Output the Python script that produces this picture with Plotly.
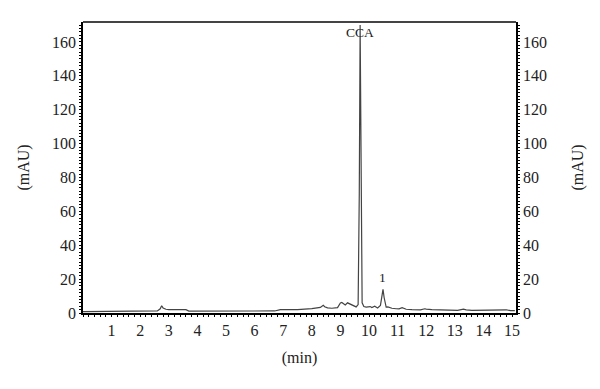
import plotly.graph_objects as go

time_min = [0.0, 0.5, 1.0, 2.0, 2.6, 2.7, 2.75, 2.8, 2.9, 3.0, 3.3, 3.5, 3.6, 3.7, 4.0, 5.0, 6.0,
            6.7, 6.9, 7.2, 7.5, 8.0, 8.3, 8.4, 8.45, 8.55, 8.7, 8.9, 9.0, 9.05, 9.12, 9.17, 9.25,
            9.3, 9.45, 9.55, 9.62, 9.66, 9.69, 9.72, 9.76, 9.82, 9.9, 10.04, 10.1, 10.2, 10.3,
            10.4, 10.45, 10.49, 10.53, 10.6, 10.66, 10.8, 10.95, 11.05, 11.16, 11.3, 11.5, 11.8,
            11.95, 12.0, 12.2, 12.5, 12.7, 12.8, 12.95, 13.1, 13.3, 13.4, 13.6, 14.0, 14.3, 14.5,
            14.7, 14.8, 14.95, 15.1]
signal_mau = [0.8, 0.8, 1.0, 1.1, 1.2, 2.5, 4.3, 3.0, 2.2, 2.0, 2.1, 1.9, 2.0, 1.1, 1.1, 1.1, 1.1,
              1.2, 2.0, 1.9, 2.0, 2.6, 3.3, 4.6, 3.7, 3.0, 2.8, 3.2, 5.9, 6.2, 5.0, 4.7, 6.0,
              5.6, 4.2, 3.6, 5.0, 70.0, 170.0, 60.0, 6.0, 3.8, 3.5, 3.8, 3.2, 4.0, 3.0,
              4.5, 9.0, 14.0, 9.0, 3.5, 3.6, 2.8, 2.5, 2.4, 3.1, 2.2, 2.0, 1.9,
              2.5, 2.3, 2.0, 1.9, 1.6, 1.9, 1.7, 1.6, 2.3, 1.8, 1.6, 1.7, 1.8, 1.6,
              1.5, 1.9, 1.4, 1.4]

x_ticks = list(range(1, 16))
y_ticks = [0, 20, 40, 60, 80, 100, 120, 140, 160]
peak_labels = ["CCA", "1"]
peak_times = [9.69, 10.47]
peak_label_y = [171.5, 15.3]
peak_label_anchor = ["top", "bottom"]

font_family = "Liberation Serif, Times New Roman, serif"

fig = go.Figure()
fig.add_trace(go.Scatter(x=time_min, y=signal_mau, mode="lines",
                         line=dict(color="#444444", width=1.2), showlegend=False,
                         hoverinfo="skip"))
# invisible trace for the right axis
fig.add_trace(go.Scatter(x=[0], y=[0], yaxis="y2", mode="markers",
                         marker=dict(opacity=0), showlegend=False, hoverinfo="skip"))

for lab, t, yy, anc in zip(peak_labels, peak_times, peak_label_y, peak_label_anchor):
    fig.add_annotation(x=t, y=yy, text=lab, showarrow=False, yanchor=anc,
                       font=dict(family=font_family, size=13.5, color="#222"))

axis_common = dict(showgrid=False, zeroline=False, showline=True, linecolor="black",
                   linewidth=1.5, ticks="outside", ticklen=2, tickwidth=1, tickcolor="black",
                   tickfont=dict(family=font_family, size=16, color="#222"))

fig.update_layout(
    width=600, height=389,
    margin=dict(l=75, r=92, t=14, b=84),
    plot_bgcolor="white", paper_bgcolor="white",
    xaxis=dict(range=[0.0, 15.14], tickvals=x_ticks, ticktext=[str(v) for v in x_ticks],
               title=dict(text="(min)", font=dict(family=font_family, size=16, color="#222"),
                          standoff=14),
               minor=dict(ticks="outside", ticklen=2, dtick=0.2, tickcolor="black"),
               **axis_common),
    yaxis=dict(range=[0, 171.8], tickvals=y_ticks,
               title=dict(text="(mAU)", font=dict(family=font_family, size=16, color="#222"),
                          standoff=18),
               minor=dict(ticks="outside", ticklen=2, dtick=2, tickcolor="black"),
               **axis_common),
    yaxis2=dict(range=[0, 171.8], tickvals=y_ticks, overlaying="y", side="right",
                title=dict(text="(mAU)", font=dict(family=font_family, size=16, color="#222"),
                           standoff=26),
                minor=dict(ticks="outside", ticklen=2, dtick=2, tickcolor="black"),
                **axis_common),
)
# top border
fig.add_shape(type="line", xref="paper", yref="paper", x0=0, x1=1, y0=1, y1=1,
              line=dict(color="#444", width=2))

fig.write_html("out.html")
